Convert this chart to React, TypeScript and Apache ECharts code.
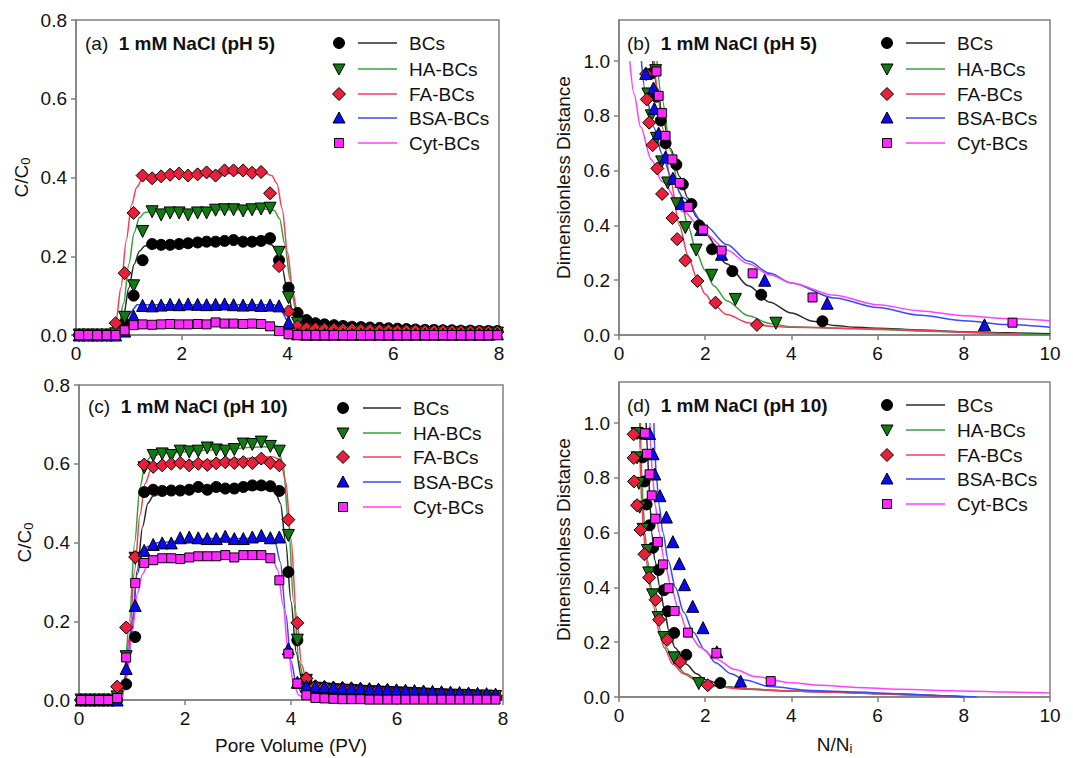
import React, { useEffect, useRef } from 'react';
import * as echarts from 'echarts';

const FONT = '"Liberation Sans", Arial, Helvetica, sans-serif';

// ---------- Panel (a): 1 mM NaCl pH 5, breakthrough curves ----------
const PV_A = [0.06, 0.23, 0.40, 0.58, 0.75, 0.92, 1.09, 1.26, 1.44, 1.61, 1.78, 1.95, 2.12, 2.30, 2.47, 2.64, 2.81, 2.98, 3.16, 3.33, 3.50, 3.67, 3.84, 4.02, 4.19, 4.36, 4.53, 4.70, 4.88, 5.05, 5.22, 5.39, 5.56, 5.74, 5.91, 6.08, 6.25, 6.42, 6.60, 6.77, 6.94, 7.11, 7.28, 7.46, 7.63, 7.80, 7.97];
const A_BCS = [0, 0, 0, 0, 0.003, 0.03, 0.10, 0.19, 0.231, 0.229, 0.229, 0.231, 0.233, 0.235, 0.237, 0.237, 0.239, 0.241, 0.237, 0.237, 0.239, 0.246, 0.19, 0.12, 0.056, 0.038, 0.030, 0.027, 0.025, 0.023, 0.021, 0.020, 0.019, 0.018, 0.017, 0.016, 0.015, 0.014, 0.013, 0.013, 0.012, 0.012, 0.011, 0.011, 0.010, 0.010, 0.010];
const A_HA = [0, 0, 0, 0, 0.003, 0.045, 0.125, 0.263, 0.313, 0.305, 0.31, 0.31, 0.305, 0.31, 0.31, 0.317, 0.318, 0.318, 0.315, 0.318, 0.32, 0.322, 0.21, 0.095, 0.03, 0.015, 0.012, 0.011, 0.010, 0.010, 0.009, 0.009, 0.008, 0.008, 0.008, 0.007, 0.007, 0.007, 0.006, 0.006, 0.006, 0.006, 0.005, 0.005, 0.005, 0.005, 0.005];
const A_FA = [0, 0, 0, 0, 0.03, 0.157, 0.31, 0.405, 0.398, 0.403, 0.407, 0.41, 0.405, 0.408, 0.413, 0.405, 0.418, 0.418, 0.418, 0.412, 0.414, 0.36, 0.175, 0.06, 0.022, 0.017, 0.016, 0.015, 0.015, 0.014, 0.014, 0.013, 0.013, 0.012, 0.012, 0.011, 0.011, 0.011, 0.010, 0.010, 0.010, 0.009, 0.009, 0.009, 0.009, 0.008, 0.008];
const A_BSA = [0, 0, 0, 0, 0, 0.01, 0.048, 0.075, 0.074, 0.076, 0.078, 0.077, 0.079, 0.078, 0.077, 0.078, 0.079, 0.077, 0.076, 0.077, 0.075, 0.076, 0.074, 0.032, 0.003, 0.002, 0.002, 0.002, 0.002, 0.002, 0.002, 0.002, 0.002, 0.002, 0.002, 0.002, 0.002, 0.002, 0.002, 0.002, 0.002, 0.002, 0.002, 0.002, 0.002, 0.002, 0.003];
const A_CYT = [0, 0, 0, 0, 0, 0.012, 0.025, 0.027, 0.026, 0.027, 0.028, 0.027, 0.027, 0.028, 0.027, 0.032, 0.029, 0.029, 0.028, 0.029, 0.028, 0.022, 0.01, 0.002, 0, 0, 0, 0, 0, 0, 0, 0, 0, 0, 0, 0, 0, 0, 0, 0, 0, 0, 0, 0, 0, 0, 0];

const A_FIT_BCS = [[0, 0], [0.7, 0], [0.8, 0.01], [0.9, 0.05], [1.0, 0.12], [1.1, 0.18], [1.2, 0.213], [1.3, 0.226], [1.5, 0.231], [2.0, 0.232], [3.0, 0.233], [3.6, 0.233], [3.7, 0.229], [3.8, 0.212], [3.9, 0.17], [4.0, 0.11], [4.1, 0.06], [4.2, 0.03], [4.3, 0.018], [4.5, 0.013], [5, 0.011], [6, 0.008], [7, 0.006], [8, 0.005]];
const A_FIT_HA = [[0, 0], [0.7, 0], [0.8, 0.02], [0.9, 0.08], [1.0, 0.18], [1.1, 0.26], [1.2, 0.298], [1.3, 0.311], [1.5, 0.315], [2, 0.316], [3, 0.318], [3.65, 0.32], [3.75, 0.316], [3.85, 0.295], [3.95, 0.23], [4.05, 0.14], [4.15, 0.065], [4.25, 0.025], [4.35, 0.01], [5, 0.006], [6, 0.004], [8, 0.002]];
const A_FIT_FA = [[0, 0], [0.65, 0], [0.75, 0.03], [0.85, 0.12], [0.95, 0.24], [1.05, 0.33], [1.15, 0.375], [1.25, 0.396], [1.4, 0.405], [1.7, 0.409], [2.5, 0.41], [3.6, 0.41], [3.7, 0.405], [3.8, 0.385], [3.9, 0.32], [4.0, 0.21], [4.1, 0.11], [4.2, 0.045], [4.3, 0.02], [4.5, 0.015], [5, 0.014], [6, 0.012], [7, 0.01], [8, 0.008]];
const A_FIT_BSA = [[0, 0], [0.72, 0], [0.85, 0.015], [1.0, 0.05], [1.15, 0.077], [3.75, 0.077], [3.9, 0.06], [4.05, 0.02], [4.15, 0.003], [8, 0.003]];
const A_FIT_CYT = [[0, 0], [0.75, 0], [0.95, 0.015], [1.1, 0.026], [1.25, 0.028], [3.7, 0.028], [3.85, 0.02], [4.0, 0.006], [4.15, 0], [8, 0]];

// ---------- Panel (b): 1 mM NaCl pH 5, dimensionless distance ----------
const B_BCS = [[0.75, 0.955], [0.87, 0.87], [0.97, 0.783], [1.08, 0.70], [1.33, 0.622], [1.48, 0.55], [1.68, 0.478], [1.86, 0.40], [2.16, 0.313], [2.63, 0.233], [3.30, 0.147], [4.72, 0.05]];
const B_HA = [[0.85, 0.965], [0.67, 0.88], [0.75, 0.80], [0.87, 0.718], [0.99, 0.632], [1.13, 0.555], [1.34, 0.479], [1.54, 0.392], [1.79, 0.31], [2.15, 0.218], [2.70, 0.13], [3.64, 0.043]];
const B_FA = [[0.63, 0.953], [0.645, 0.86], [0.70, 0.775], [0.78, 0.693], [0.89, 0.608], [1.0, 0.515], [1.24, 0.427], [1.35, 0.35], [1.54, 0.272], [1.82, 0.197], [2.24, 0.118], [3.2, 0.037]];
const B_BSA = [[0.62, 0.955], [0.8, 0.902], [0.82, 0.827], [0.92, 0.737], [1.08, 0.65], [1.25, 0.572], [1.45, 0.48], [1.9, 0.385], [2.38, 0.295], [3.38, 0.2], [4.83, 0.116], [8.48, 0.037]];
const B_CYT = [[0.87, 0.962], [0.92, 0.873], [1.0, 0.81], [1.08, 0.727], [1.24, 0.641], [1.41, 0.555], [1.61, 0.468], [1.95, 0.385], [2.38, 0.308], [3.1, 0.225], [4.49, 0.137], [9.13, 0.045]];

const B_FIT_BCS = [[0.78, 1.0], [0.9, 0.9], [1.0, 0.8], [1.2, 0.68], [1.4, 0.58], [1.6, 0.5], [1.8, 0.43], [2.0, 0.37], [2.5, 0.26], [3.0, 0.18], [3.5, 0.12], [4.0, 0.08], [4.5, 0.05], [5.0, 0.035], [5.5, 0.028], [6, 0.025], [7, 0.018], [8, 0.012], [9, 0.008], [10, 0.005]];
const B_FIT_HA = [[0.88, 1.0], [1.0, 0.86], [1.2, 0.67], [1.4, 0.52], [1.6, 0.4], [1.8, 0.3], [2.0, 0.235], [2.2, 0.18], [2.5, 0.125], [3.0, 0.07], [3.5, 0.042], [4.0, 0.03], [5, 0.025], [6, 0.02], [7, 0.015], [8, 0.01], [9, 0.005], [10, 0]];
const B_FIT_FA = [[0.82, 1.0], [0.9, 0.88], [1.0, 0.76], [1.2, 0.56], [1.4, 0.4], [1.6, 0.29], [1.8, 0.21], [2.0, 0.15], [2.2, 0.11], [2.5, 0.075], [3.0, 0.045], [3.5, 0.032], [4, 0.028], [5, 0.026], [6, 0.022], [7, 0.016], [8, 0.01], [9, 0.005], [9.3, 0.002]];
const B_FIT_BSA = [[0.52, 1.0], [0.6, 0.9], [0.8, 0.76], [1.0, 0.66], [1.2, 0.58], [1.5, 0.5], [2.0, 0.4], [2.5, 0.33], [3.0, 0.27], [3.5, 0.225], [4.0, 0.19], [5, 0.135], [6, 0.1], [7, 0.072], [8, 0.052], [9, 0.038], [10, 0.028]];
const B_FIT_CYT = [[0.25, 1.0], [0.35, 0.88], [0.5, 0.76], [0.75, 0.64], [1.0, 0.56], [1.5, 0.45], [2.0, 0.37], [2.5, 0.31], [3.0, 0.26], [3.5, 0.22], [4.0, 0.19], [5, 0.145], [6, 0.11], [7, 0.088], [8, 0.07], [9, 0.06], [10, 0.052]];

// ---------- Panel (c): 1 mM NaCl pH 10, breakthrough curves ----------
const PV_C = [0.04, 0.21, 0.38, 0.55, 0.72, 0.89, 1.06, 1.23, 1.40, 1.57, 1.74, 1.91, 2.08, 2.25, 2.42, 2.59, 2.76, 2.93, 3.10, 3.27, 3.44, 3.61, 3.78, 3.95, 4.12, 4.29, 4.46, 4.63, 4.80, 4.97, 5.14, 5.31, 5.48, 5.65, 5.82, 5.99, 6.16, 6.33, 6.50, 6.67, 6.84, 7.01, 7.18, 7.35, 7.52, 7.69, 7.86];
const C_BCS = [0, 0, 0, 0, 0, 0.04, 0.16, 0.528, 0.534, 0.531, 0.532, 0.532, 0.534, 0.541, 0.534, 0.541, 0.537, 0.537, 0.541, 0.545, 0.545, 0.543, 0.531, 0.325, 0.152, 0.05, 0.025, 0.022, 0.02, 0.019, 0.018, 0.017, 0.016, 0.015, 0.014, 0.013, 0.012, 0.012, 0.011, 0.010, 0.010, 0.009, 0.009, 0.008, 0.008, 0.007, 0.006];
const C_HA = [0, 0, 0, 0, 0.008, 0.11, 0.36, 0.59, 0.621, 0.625, 0.621, 0.632, 0.630, 0.632, 0.640, 0.635, 0.632, 0.636, 0.650, 0.649, 0.655, 0.644, 0.632, 0.418, 0.152, 0.05, 0.030, 0.028, 0.026, 0.025, 0.024, 0.022, 0.021, 0.020, 0.019, 0.018, 0.017, 0.016, 0.015, 0.014, 0.013, 0.012, 0.012, 0.011, 0.010, 0.010, 0.009];
const C_FA = [0, 0, 0, 0, 0.034, 0.184, 0.363, 0.598, 0.592, 0.596, 0.600, 0.602, 0.596, 0.600, 0.597, 0.601, 0.604, 0.602, 0.604, 0.602, 0.613, 0.602, 0.596, 0.458, 0.196, 0.055, 0.035, 0.033, 0.031, 0.030, 0.029, 0.027, 0.026, 0.025, 0.024, 0.022, 0.021, 0.020, 0.019, 0.018, 0.017, 0.016, 0.015, 0.014, 0.013, 0.012, 0.011];
const C_BSA = [0, 0, 0, 0, 0, 0.08, 0.24, 0.38, 0.395, 0.399, 0.399, 0.412, 0.414, 0.412, 0.41, 0.41, 0.416, 0.41, 0.41, 0.414, 0.418, 0.412, 0.414, 0.13, 0.045, 0.035, 0.035, 0.034, 0.033, 0.032, 0.031, 0.030, 0.029, 0.028, 0.027, 0.026, 0.025, 0.024, 0.023, 0.022, 0.021, 0.020, 0.019, 0.018, 0.017, 0.016, 0.015];
const C_CYT = [0, 0, 0, 0, 0.005, 0.108, 0.297, 0.348, 0.355, 0.36, 0.36, 0.358, 0.362, 0.365, 0.365, 0.365, 0.368, 0.362, 0.368, 0.368, 0.368, 0.36, 0.304, 0.118, 0.042, 0.012, 0.005, 0.004, 0.003, 0.002, 0.002, 0.002, 0.001, 0.001, 0.001, 0.001, 0.001, 0.001, 0.001, 0.001, 0.001, 0.001, 0.001, 0.001, 0.001, 0.001, 0.001];

const C_FIT_BCS = [[0, 0], [0.78, 0], [0.9, 0.06], [1.0, 0.18], [1.1, 0.33], [1.2, 0.44], [1.3, 0.5], [1.4, 0.518], [1.6, 0.527], [2.5, 0.532], [3.5, 0.535], [3.7, 0.53], [3.8, 0.5], [3.9, 0.4], [4.0, 0.25], [4.1, 0.12], [4.2, 0.055], [4.3, 0.03], [4.5, 0.02], [5, 0.018], [6, 0.013], [7, 0.009], [8, 0.006]];
const C_FIT_HA = [[0, 0], [0.75, 0], [0.85, 0.05], [0.95, 0.2], [1.05, 0.4], [1.15, 0.54], [1.25, 0.6], [1.35, 0.618], [1.6, 0.627], [2.5, 0.635], [3.5, 0.643], [3.75, 0.64], [3.85, 0.6], [3.95, 0.45], [4.05, 0.25], [4.15, 0.1], [4.25, 0.045], [4.4, 0.028], [5, 0.022], [6, 0.016], [7, 0.011], [8, 0.008]];
const C_FIT_FA = [[0, 0], [0.75, 0], [0.85, 0.04], [0.95, 0.16], [1.05, 0.33], [1.15, 0.47], [1.25, 0.55], [1.35, 0.583], [1.5, 0.597], [2, 0.604], [3, 0.612], [3.65, 0.618], [3.8, 0.61], [3.9, 0.555], [4.0, 0.41], [4.1, 0.22], [4.2, 0.09], [4.3, 0.045], [4.5, 0.033], [5, 0.03], [6, 0.022], [7, 0.015], [8, 0.01]];
const C_FIT_BSA = [[0, 0], [0.8, 0], [0.9, 0.07], [1.0, 0.2], [1.1, 0.32], [1.2, 0.37], [1.3, 0.39], [1.5, 0.4], [2.5, 0.41], [3.6, 0.41], [3.7, 0.4], [3.8, 0.35], [3.9, 0.22], [4.0, 0.1], [4.1, 0.04], [4.2, 0.02], [4.5, 0.013], [5, 0.011], [6, 0.009], [8, 0.006]];
const C_FIT_CYT = [[0, 0], [0.8, 0], [0.9, 0.06], [1.0, 0.17], [1.1, 0.27], [1.2, 0.32], [1.3, 0.345], [1.5, 0.355], [2.5, 0.363], [3.5, 0.365], [3.65, 0.36], [3.75, 0.33], [3.85, 0.24], [3.95, 0.12], [4.05, 0.04], [4.15, 0.012], [4.3, 0], [8, 0]];

// ---------- Panel (d): 1 mM NaCl pH 10, dimensionless distance ----------
const D_BCS = [[0.53, 0.961], [0.55, 0.875], [0.59, 0.787], [0.64, 0.703], [0.71, 0.627], [0.79, 0.545], [0.92, 0.464], [1.04, 0.39], [1.13, 0.313], [1.28, 0.234], [1.56, 0.154], [2.35, 0.051]];
const D_HA = [[0.42, 0.962], [0.42, 0.873], [0.46, 0.78], [0.48, 0.693], [0.56, 0.612], [0.66, 0.535], [0.69, 0.453], [0.78, 0.373], [0.91, 0.29], [1.04, 0.217], [1.28, 0.143], [1.85, 0.049]];
const D_FA = [[0.34, 0.959], [0.34, 0.873], [0.35, 0.787], [0.42, 0.70], [0.5, 0.61], [0.59, 0.521], [0.7, 0.436], [0.85, 0.355], [0.93, 0.282], [1.12, 0.209], [1.42, 0.128], [2.06, 0.043]];
const D_BSA = [[0.71, 0.962], [0.79, 0.888], [0.83, 0.814], [0.95, 0.735], [1.1, 0.657], [1.25, 0.567], [1.4, 0.487], [1.52, 0.41], [1.71, 0.331], [1.95, 0.253], [2.27, 0.165], [2.82, 0.058]];
const D_CYT = [[0.6, 0.963], [0.65, 0.888], [0.71, 0.813], [0.76, 0.736], [0.84, 0.651], [0.9, 0.566], [1.02, 0.484], [1.15, 0.397], [1.29, 0.314], [1.6, 0.235], [2.26, 0.161], [3.52, 0.058]];

const D_FIT_BCS = [[0.63, 1.0], [0.66, 0.9], [0.69, 0.8], [0.72, 0.7], [0.76, 0.6], [0.83, 0.5], [0.95, 0.4], [1.05, 0.32], [1.16, 0.24], [1.3, 0.18], [1.56, 0.12], [1.8, 0.085], [2.0, 0.063], [2.5, 0.037], [3, 0.028], [4, 0.022], [5, 0.018], [6, 0.013], [7, 0.007], [8, 0]];
const D_FIT_HA = [[0.5, 1.0], [0.51, 0.9], [0.53, 0.8], [0.56, 0.7], [0.6, 0.6], [0.66, 0.5], [0.75, 0.4], [0.84, 0.33], [0.97, 0.24], [1.1, 0.18], [1.3, 0.12], [1.55, 0.085], [1.85, 0.06], [2.3, 0.04], [2.9, 0.03], [4, 0.022], [5, 0.017], [6, 0.012], [7, 0.006], [7.8, 0]];
const D_FIT_FA = [[0.48, 1.0], [0.485, 0.9], [0.5, 0.8], [0.53, 0.7], [0.57, 0.6], [0.63, 0.5], [0.72, 0.4], [0.8, 0.33], [0.93, 0.24], [1.05, 0.18], [1.25, 0.12], [1.5, 0.085], [1.78, 0.061], [2.2, 0.04], [2.77, 0.03], [4, 0.022], [5, 0.017], [6, 0.012], [7, 0.006], [7.7, 0]];
const D_FIT_BSA = [[0.81, 1.0], [0.83, 0.9], [0.87, 0.8], [0.93, 0.7], [1.02, 0.6], [1.14, 0.5], [1.31, 0.4], [1.5, 0.31], [1.72, 0.237], [2.0, 0.17], [2.24, 0.125], [2.6, 0.085], [2.92, 0.062], [3.5, 0.038], [4.44, 0.024], [5.5, 0.018], [6.5, 0.012], [7.5, 0.005], [8.3, 0]];
const D_FIT_CYT = [[0.72, 1.0], [0.74, 0.9], [0.78, 0.8], [0.84, 0.7], [0.93, 0.6], [1.05, 0.5], [1.21, 0.4], [1.4, 0.31], [1.59, 0.237], [1.9, 0.18], [2.24, 0.14], [2.7, 0.1], [3.15, 0.075], [4, 0.052], [4.67, 0.043], [5.5, 0.035], [6.5, 0.028], [8, 0.022], [9, 0.018], [10, 0.015]];

const SERIES_NAMES = ['BCs', 'HA-BCs', 'FA-BCs', 'BSA-BCs', 'Cyt-BCs'];
const X_TICKS_PV = [0, 2, 4, 6, 8];
const X_TICKS_N = [0, 2, 4, 6, 8, 10];
const Y_TICKS_C = [0, 0.2, 0.4, 0.6, 0.8];
const Y_TICKS_D = [0, 0.2, 0.4, 0.6, 0.8, 1.0];

const STYLES = [
  { symbol: 'circle', rot: 0, size: 11, fill: '#000000', line: '#2a2a2a' },
  { symbol: 'triangle', rot: 180, size: 12, fill: '#117a11', line: '#3a9f3a' },
  { symbol: 'diamond', rot: 0, size: 13, fill: '#e8203c', line: '#f53d5a' },
  { symbol: 'triangle', rot: 0, size: 12, fill: '#0a0af0', line: '#3a48ff' },
  { symbol: 'rect', rot: 0, size: 9, fill: '#ff26ff', line: '#ff40ff' },
];

const zip = (xs: number[], ys: number[]) => xs.map((x, i) => [x, ys[i]]);

const GRIDS = [
  { left: 76, top: 20, width: 423, height: 315 },
  { left: 619, top: 20, width: 431, height: 315 },
  { left: 79, top: 385, width: 424, height: 315 },
  { left: 619, top: 382, width: 431, height: 315 },
];

function legendEls(mx: number, l1: number, l2: number, tx: number, ys: number[]) {
  const els: any[] = [];
  STYLES.forEach((s, k) => {
    const y = ys[k];
    els.push({ type: 'line', shape: { x1: l1, y1: y, x2: l2, y2: y }, style: { stroke: s.line, lineWidth: 1.5 } });
    const ms = { fill: s.fill, stroke: '#000', lineWidth: 1 };
    if (k === 0) els.push({ type: 'circle', shape: { cx: mx, cy: y, r: 5.5 }, style: ms });
    if (k === 1) els.push({ type: 'polygon', shape: { points: [[mx - 6, y - 5], [mx + 6, y - 5], [mx, y + 6]] }, style: ms });
    if (k === 2) els.push({ type: 'polygon', shape: { points: [[mx, y - 6.5], [mx + 6.5, y], [mx, y + 6.5], [mx - 6.5, y]] }, style: ms });
    if (k === 3) els.push({ type: 'polygon', shape: { points: [[mx, y - 6], [mx + 6, y + 5], [mx - 6, y + 5]] }, style: ms });
    if (k === 4) els.push({ type: 'rect', shape: { x: mx - 4.5, y: y - 4.5, width: 9, height: 9 }, style: ms });
    els.push({
      type: 'text',
      style: { text: SERIES_NAMES[k], x: tx, y, font: `19px ${FONT}`, fill: '#111', verticalAlign: 'middle', textVerticalAlign: 'middle' },
    });
  });
  return els;
}

function titleEl(label: string, cond: string, x: number, y: number) {
  return {
    type: 'text',
    style: {
      text: `{n|${label}  }{b|${cond}}`,
      x,
      y,
      verticalAlign: 'middle',
      textVerticalAlign: 'middle',
      rich: {
        n: { fontFamily: FONT, fontSize: 19, fill: '#111', color: '#111' },
        b: { fontFamily: FONT, fontSize: 19, fontWeight: 'bold', fill: '#111', color: '#111' },
      },
    },
  };
}

function buildOption() {
  const axisLine = { show: true, onZero: false, lineStyle: { color: '#808080', width: 1.5 } };
  const axisTickBase = { show: true, inside: false, length: 5, lineStyle: { color: '#808080', width: 1.5 } };
  const labelBase = { color: '#111', fontSize: 19, fontFamily: FONT, margin: 9 };
  const nameStyle = {
    fontFamily: FONT,
    fontSize: 19,
    color: '#111',
    rich: {
      m: { fontFamily: FONT, fontSize: 19, color: '#111' },
      s: { fontFamily: FONT, fontSize: 13, color: '#111', verticalAlign: 'bottom', padding: [9, 0, 0, 0] },
    },
  };

  const xAxis = [0, 1, 2, 3].map((g) => {
    const isN = g === 1 || g === 3;
    const ticks = isN ? X_TICKS_N : X_TICKS_PV;
    const ax: any = {
      type: 'value',
      gridIndex: g,
      min: 0,
      max: isN ? 10 : 8,
      interval: 2,
      axisLine,
      axisTick: { ...axisTickBase, customValues: ticks },
      axisLabel: { ...labelBase, customValues: ticks, formatter: (v: number) => String(Math.round(v)) },
      splitLine: { show: false },
    };
    if (g === 2) Object.assign(ax, { name: 'Pore Volume (PV)', nameLocation: 'middle', nameGap: 36, nameTextStyle: nameStyle });
    if (g === 3) Object.assign(ax, { name: '{m|N/N}{s|i}', nameLocation: 'middle', nameGap: 36, nameTextStyle: nameStyle });
    return ax;
  });

  const yAxis = [0, 1, 2, 3].map((g) => {
    const isD = g === 1 || g === 3;
    const ticks = isD ? Y_TICKS_D : Y_TICKS_C;
    return {
      type: 'value',
      gridIndex: g,
      min: 0,
      max: isD ? 1.15 : 0.8,
      interval: 0.2,
      axisLine,
      axisTick: { ...axisTickBase, customValues: ticks },
      axisLabel: { ...labelBase, customValues: ticks, formatter: (v: number) => (v > 1.001 ? '' : v.toFixed(1)) },
      splitLine: { show: false },
      name: isD ? 'Dimensionless Distance' : '{m|C/C}{s|0}',
      nameLocation: 'middle',
      nameRotate: 90,
      nameGap: isD ? 46 : 44,
      nameTextStyle: nameStyle,
    };
  });

  const panels = [
    { pts: [zip(PV_A, A_BCS), zip(PV_A, A_HA), zip(PV_A, A_FA), zip(PV_A, A_BSA), zip(PV_A, A_CYT)], fits: [A_FIT_BCS, A_FIT_HA, A_FIT_FA, A_FIT_BSA, A_FIT_CYT], smooth: [true, true, true, false, false] },
    { pts: [B_BCS, B_HA, B_FA, B_BSA, B_CYT], fits: [B_FIT_BCS, B_FIT_HA, B_FIT_FA, B_FIT_BSA, B_FIT_CYT], smooth: [true, true, true, true, true] },
    { pts: [zip(PV_C, C_BCS), zip(PV_C, C_HA), zip(PV_C, C_FA), zip(PV_C, C_BSA), zip(PV_C, C_CYT)], fits: [C_FIT_BCS, C_FIT_HA, C_FIT_FA, C_FIT_BSA, C_FIT_CYT], smooth: [true, true, true, true, true] },
    { pts: [D_BCS, D_HA, D_FA, D_BSA, D_CYT], fits: [D_FIT_BCS, D_FIT_HA, D_FIT_FA, D_FIT_BSA, D_FIT_CYT], smooth: [true, true, true, true, true] },
  ];

  const series: any[] = [];
  panels.forEach((p, g) => {
    p.fits.forEach((f, k) => {
      series.push({
        type: 'line',
        name: SERIES_NAMES[k] + ' fit',
        xAxisIndex: g,
        yAxisIndex: g,
        data: f,
        symbol: 'none',
        showSymbol: false,
        smooth: p.smooth[k] ? 0.3 : false,
        smoothMonotone: 'x',
        lineStyle: { color: STYLES[k].line, width: 1.5 },
        z: 2,
        silent: true,
      });
    });
    p.pts.forEach((d, k) => {
      const s = STYLES[k];
      series.push({
        type: 'scatter',
        name: SERIES_NAMES[k],
        xAxisIndex: g,
        yAxisIndex: g,
        data: d,
        symbol: s.symbol,
        symbolRotate: s.rot,
        symbolSize: s.size,
        itemStyle: { color: s.fill, borderColor: '#000', borderWidth: 1, opacity: 1 },
        z: 3,
        silent: true,
      });
    });
  });

  const graphic = [
    titleEl('(a)', '1 mM NaCl (pH 5)', 85, 43),
    titleEl('(b)', '1 mM NaCl (pH 5)', 627, 43),
    titleEl('(c)', '1 mM NaCl (pH 10)', 88, 406),
    titleEl('(d)', '1 mM NaCl (pH 10)', 627, 405),
    ...legendEls(339, 358, 397, 409, [43, 69, 94, 118, 143]),
    ...legendEls(887, 906, 945, 957, [43, 69, 94, 118, 143]),
    ...legendEls(343, 363, 401, 413, [408, 433, 457, 482, 507]),
    ...legendEls(887, 906, 945, 957, [405, 430, 455, 479, 504]),
  ];

  return {
    animation: false,
    backgroundColor: '#ffffff',
    textStyle: { fontFamily: FONT },
    grid: GRIDS.map((g) => ({ ...g, show: true, borderColor: '#808080', borderWidth: 1.5, backgroundColor: 'transparent', containLabel: false })),
    xAxis,
    yAxis,
    series,
    graphic: { elements: graphic },
  };
}

export default function App() {
  const ref = useRef<HTMLDivElement>(null);
  useEffect(() => {
    document.body.style.margin = '0';
    const chart = echarts.init(ref.current as HTMLDivElement, null, { renderer: 'svg' });
    chart.setOption(buildOption() as any);
    return () => chart.dispose();
  }, []);
  return <div ref={ref} style={{ width: 1073, height: 758, background: '#fff' }} />;
}
